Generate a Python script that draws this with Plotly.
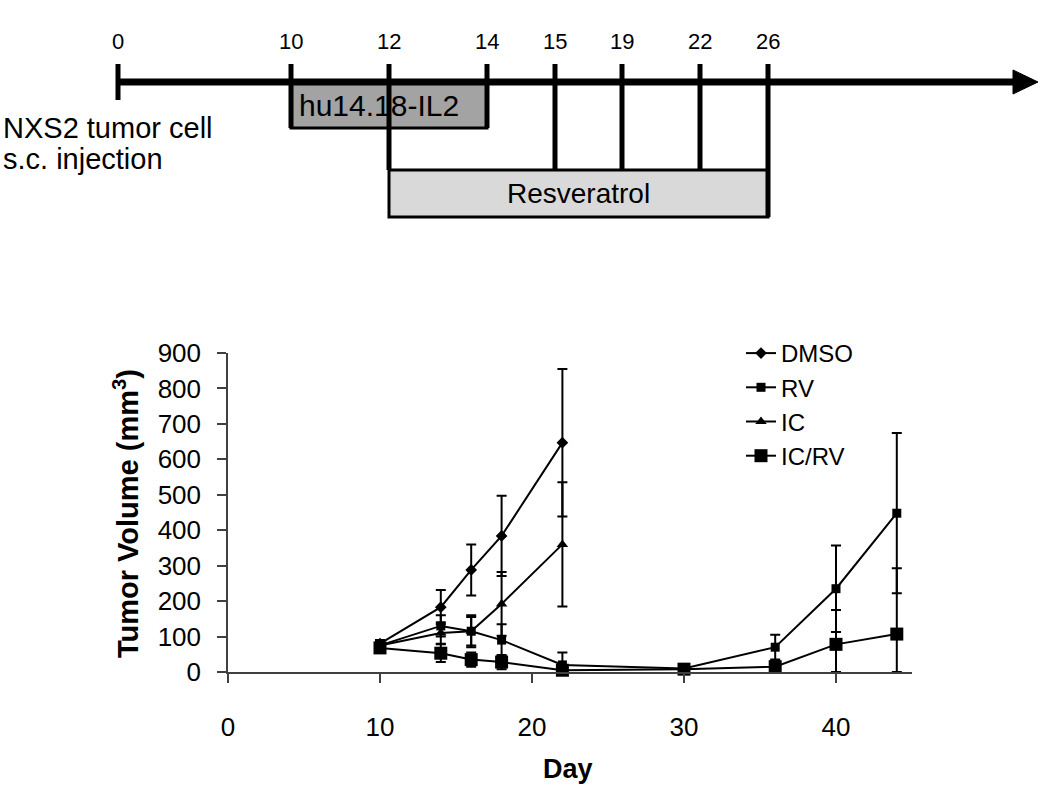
import plotly.graph_objects as go

# ---------------- data ----------------
series_names = ["DMSO", "RV", "IC", "IC/RV"]

dmso_days = [10, 14, 16, 18, 22]
dmso_vol = [80, 183, 288, 384, 647]
dmso_err = [10, 48, 72, 113, 208]

rv_days = [10, 14, 16, 18, 22, 30, 36, 40, 44]
rv_vol = [75, 130, 115, 90, 20, 10, 70, 235, 448]
rv_err = [10, 30, 40, 45, 35, 5, 35, 122, 226]

ic_days = [10, 14, 16, 18, 22]
ic_vol = [75, 110, 115, 192, 360]
ic_err = [10, 30, 45, 90, 175]

icrv_days = [10, 14, 16, 18, 22, 30, 36, 40, 44]
icrv_vol = [68, 53, 35, 28, 5, 8, 15, 78, 107]
icrv_err = [10, 25, 20, 20, 10, 5, 15, 97, 186]

x_ticks = [0, 10, 20, 30, 40]
y_ticks = [0, 100, 200, 300, 400, 500, 600, 700, 800, 900]

# timeline (schematic) labels
timeline_days = [0, 10, 12, 14, 15, 19, 22, 26]
antibody_label = "hu14.18-IL2"
drug_label = "Resveratrol"
injection_label = ["NXS2 tumor cell", "s.c. injection"]

# ---------------- layout constants (pixels) ----------------
W, H = 1050, 791
FONT = "Liberation Sans, Arial, sans-serif"
# schematic x positions of the timeline ticks (pixel units of the overlay axis)
tl_pos = [118, 291, 389, 487, 555, 622, 700, 768]
tl_axis_y = 82
tl_tick_top = 64

fig = go.Figure()

styles = [
    dict(symbol="diamond", size=9),
    dict(symbol="square", size=9),
    dict(symbol="triangle-up", size=10),
    dict(symbol="square", size=13),
]
data = [
    (dmso_days, dmso_vol, dmso_err),
    (rv_days, rv_vol, rv_err),
    (ic_days, ic_vol, ic_err),
    (icrv_days, icrv_vol, icrv_err),
]
for name, (d, v, e), st in zip(series_names, data, styles):
    fig.add_trace(go.Scatter(
        x=d, y=v, name=name, mode="lines+markers",
        line=dict(color="black", width=2),
        marker=dict(color="black", symbol=st["symbol"], size=st["size"]),
        error_y=dict(type="data", symmetric=False, array=e,
                     arrayminus=[min(ee, vv) for ee, vv in zip(e, v)],
                     color="black", thickness=2, width=5),
        cliponaxis=False,
        xaxis="x", yaxis="y",
    ))

# ---------------- timeline schematic on an overlay axis ----------------
shapes = []
shapes.append(dict(type="line", xref="x2", yref="y2", x0=tl_pos[0], x1=1018,
                   y0=tl_axis_y, y1=tl_axis_y, line=dict(color="black", width=7)))
shapes.append(dict(type="path", xref="x2", yref="y2",
                   path="M 1013 70 L 1038 82 L 1013 94 Z",
                   fillcolor="black", line=dict(color="black", width=1)))
hu_start, hu_end = tl_pos[timeline_days.index(10)], tl_pos[timeline_days.index(14)]
rv_start, rv_end = tl_pos[timeline_days.index(12)], tl_pos[timeline_days.index(26)]
shapes.append(dict(type="rect", xref="x2", yref="y2", x0=hu_start, x1=hu_end,
                   y0=84, y1=128, fillcolor="#a3a3a3",
                   line=dict(color="black", width=3)))
shapes.append(dict(type="rect", xref="x2", yref="y2", x0=rv_start, x1=rv_end,
                   y0=170, y1=217, fillcolor="#d9d9d9",
                   line=dict(color="black", width=3)))
for day, p in zip(timeline_days, tl_pos):
    if day == 0:
        bottom = 100
    elif day in (10, 14):
        bottom = 128
    elif day == 26:
        bottom = 217
    else:
        bottom = 170
    shapes.append(dict(type="line", xref="x2", yref="y2", x0=p, x1=p,
                       y0=tl_tick_top, y1=bottom,
                       line=dict(color="black", width=5)))

annotations = []
for day, p in zip(timeline_days, tl_pos):
    annotations.append(dict(xref="x2", yref="y2", x=p, y=41, text=str(day),
                            showarrow=False, font=dict(size=22, color="black", family=FONT),
                            xanchor="center", yanchor="middle"))
annotations.append(dict(xref="x2", yref="y2", x=(hu_start + hu_end) / 2 - 10, y=105,
                        text=antibody_label, showarrow=False,
                        xanchor="center", yanchor="middle",
                        font=dict(size=30, color="black", family=FONT)))
annotations.append(dict(xref="x2", yref="y2", x=(rv_start + rv_end) / 2, y=193,
                        text=drug_label, showarrow=False,
                        xanchor="center", yanchor="middle",
                        font=dict(size=28, color="black", family=FONT)))
annotations.append(dict(xref="x2", yref="y2", x=1, y=128, text=injection_label[0],
                        showarrow=False, xanchor="left", yanchor="middle",
                        font=dict(size=29, color="black", family=FONT)))
annotations.append(dict(xref="x2", yref="y2", x=1, y=159, text=injection_label[1],
                        showarrow=False, xanchor="left", yanchor="middle",
                        font=dict(size=29, color="black", family=FONT)))
# axis titles
annotations.append(dict(xref="x2", yref="y2", x=568, y=769,
                        text="<b>Day</b>", showarrow=False,
                        xanchor="center", yanchor="middle",
                        font=dict(size=27, color="black", family=FONT)))
annotations.append(dict(xref="x2", yref="y2", x=126, y=514,
                        text="<b>Tumor Volume (mm<sup>3</sup>)</b>", textangle=-90,
                        showarrow=False, xanchor="center", yanchor="middle",
                        font=dict(size=29, color="black", family=FONT)))

axis_col = "#404040"
fig.update_layout(
    width=W, height=H,
    margin=dict(l=0, r=0, t=0, b=0, pad=0, autoexpand=False),
    paper_bgcolor="white", plot_bgcolor="rgba(0,0,0,0)",
    font=dict(family=FONT, color="black", size=26),
    xaxis=dict(domain=[228 / W, 912 / W], range=[0, 45], anchor="y",
               tickvals=x_ticks, ticks="outside", ticklen=9, tickwidth=1.5,
               tickcolor=axis_col, showline=True, linecolor=axis_col, linewidth=1.5,
               showgrid=False, zeroline=False, ticklabelstandoff=22,
               tickfont=dict(size=26, family=FONT, color="black")),
    yaxis=dict(domain=[1 - 672 / H, 1 - 353 / H], range=[0, 900], anchor="x",
               tickvals=y_ticks, ticks="outside", ticklen=9, tickwidth=1.5,
               tickcolor=axis_col, showline=True, linecolor=axis_col, linewidth=1.5,
               showgrid=False, zeroline=False, ticklabelstandoff=11,
               tickfont=dict(size=26, family=FONT, color="black")),
    xaxis2=dict(domain=[0, 1], range=[0, W], anchor="y2", visible=False,
                fixedrange=True),
    yaxis2=dict(domain=[0, 1], range=[H, 0], anchor="x2", visible=False,
                fixedrange=True),
    showlegend=True,
    legend=dict(x=741 / W, y=1 - 331 / H, xanchor="left", yanchor="top",
                font=dict(size=24, family=FONT, color="black"),
                bgcolor="rgba(0,0,0,0)", tracegroupgap=0),
    shapes=shapes,
    annotations=annotations,
)

fig.write_html("out.html", config={"displayModeBar": False},
               post_script="document.body.style.margin='0px';")
